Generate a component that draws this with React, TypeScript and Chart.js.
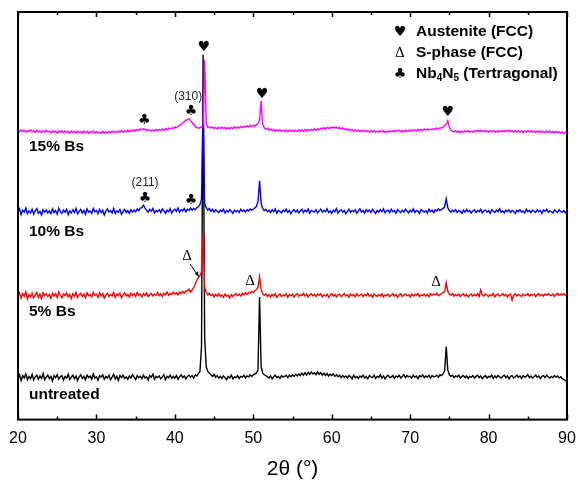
import { useEffect, useRef } from "react";
import { Chart, registerables } from "chart.js";

Chart.register(...registerables);

// 2θ scan grid: 20° to 90° in 0.2° steps (351 points)
const SCAN_START = 20;
const SCAN_STEP = 0.2;

const untreated = [
  10.1, 11.0, 9.6, 10.8, 10.2, 11.2, 9.8, 10.6, 10.0, 11.1,
  9.7, 10.5, 10.9, 9.9, 10.7, 10.1, 11.3, 9.8, 10.4, 10.9,
  10.0, 10.6, 9.5, 10.8, 10.3, 11.0, 9.9, 10.5, 10.8, 9.7,
  10.6, 10.2, 11.1, 9.8, 10.4, 10.9, 10.0, 10.7, 9.6, 10.5,
  11.0, 10.1, 10.6, 9.8, 10.9, 10.3, 10.7, 9.9, 11.2, 10.2,
  10.5, 9.7, 10.8, 10.4, 11.0, 9.9, 10.6, 10.2, 10.9, 9.8,
  10.4, 11.1, 10.0, 10.6, 9.6, 10.8, 10.3, 10.9, 10.1, 10.5,
  9.9, 10.7, 10.2, 11.0, 10.4, 9.8, 10.8, 10.3, 10.6, 10.0,
  10.9, 10.2, 10.5, 9.7, 10.8, 10.4, 11.1, 9.9, 10.6, 10.3,
  10.7, 10.0, 10.5, 11.0, 9.8, 10.6, 10.3, 10.9, 10.1, 10.6,
  10.2, 10.8, 9.9, 10.5, 11.0, 10.3, 10.7, 10.0, 10.6, 10.9,
  10.4, 10.8, 10.2, 11.0, 10.7, 11.3, 11.8, 18.0, 89.5, 20.0,
  13.0, 11.8, 11.4, 11.0, 10.6, 11.1, 10.4, 10.8, 10.2, 10.6,
  10.1, 10.7, 10.3, 9.8, 10.6, 10.2, 10.9, 10.0, 10.5, 10.3,
  10.8, 10.1, 10.6, 10.4, 10.9, 10.2, 10.7, 10.5, 11.0, 10.6,
  11.0, 11.2, 11.4, 12.2, 30.1, 13.0, 11.4, 11.0, 10.8, 10.5,
  10.2, 10.7, 10.0, 10.5, 10.9, 10.3, 10.6, 10.1, 10.8, 10.4,
  10.6, 10.9, 10.3, 10.9, 10.5, 11.0, 10.6, 11.1, 10.7, 11.2,
  10.8, 11.4, 10.9, 11.5, 10.9, 11.6, 11.1, 11.7, 11.2, 11.5,
  11.0, 11.7, 11.1, 11.5, 10.9, 11.4, 10.8, 11.3, 10.7, 11.2,
  10.8, 11.2, 10.6, 11.0, 10.5, 10.9, 10.3, 10.8, 10.4, 10.7,
  10.2, 10.8, 10.5, 10.0, 10.9, 10.3, 10.6, 10.1, 10.7, 10.4,
  10.9, 10.2, 10.6, 10.0, 10.8, 10.5, 10.3, 10.9, 10.1, 10.6,
  10.4, 11.0, 10.2, 10.7, 10.0, 10.6, 10.9, 10.3, 10.5, 10.8,
  10.1, 10.7, 10.4, 10.9, 10.2, 10.6, 11.0, 10.3, 10.8, 10.5,
  10.6, 10.2, 10.9, 10.4, 10.7, 10.0, 10.8, 10.5, 11.0, 10.3,
  10.7, 10.4, 10.9, 10.2, 10.8, 10.5, 10.6, 10.9, 10.4, 11.0,
  10.8, 11.2, 12.0, 17.9, 12.2, 11.0, 10.6, 10.9, 10.3, 10.7,
  10.5, 10.9, 10.2, 10.6, 10.8, 10.3, 10.7, 10.1, 10.6, 10.4,
  10.8, 10.2, 10.6, 10.9, 10.3, 10.7, 10.0, 10.5, 10.8, 10.2,
  10.6, 10.4, 10.9, 10.1, 10.7, 10.3, 10.8, 10.5, 10.2, 10.6,
  10.9, 10.3, 10.7, 10.0, 10.6, 10.8, 10.2, 10.5, 10.9, 10.4,
  10.7, 10.1, 10.8, 10.4, 10.6, 11.0, 10.3, 10.7, 10.2, 10.5,
  10.9, 10.4, 10.7, 10.1, 10.6, 10.8, 10.3, 10.9, 10.5, 10.2,
  10.6, 10.3, 10.8, 10.4, 10.7, 10.2, 10.5, 10.1, 9.8, 9.6,
  9.3,
];

const bs5 = [
  30.2, 31.1, 29.8, 30.9, 30.3, 31.3, 29.6, 30.7, 30.1, 31.0,
  29.9, 30.6, 31.2, 30.0, 30.8, 29.7, 31.1, 30.4, 30.9, 30.2,
  30.7, 29.8, 31.0, 30.3, 30.9, 30.0, 31.3, 30.5, 29.9, 30.8,
  30.4, 31.1, 30.1, 30.7, 29.7, 30.9, 30.3, 31.2, 30.0, 30.6,
  31.0, 30.2, 30.8, 29.9, 31.1, 30.4, 30.7, 30.1, 31.2, 30.5,
  30.8, 30.0, 31.1, 30.3, 30.9, 29.8, 30.6, 31.0, 30.2, 30.7,
  30.3, 31.2, 30.0, 30.8, 30.4, 31.0, 29.9, 30.6, 31.1, 30.3,
  30.7, 30.1, 31.0, 30.4, 30.9, 30.2, 31.2, 30.5, 30.8, 30.1,
  30.9, 30.4, 31.1, 30.2, 30.7, 31.0, 30.3, 30.8, 30.5, 31.2,
  30.4, 30.9, 30.2, 31.0, 30.6, 31.3, 30.5, 30.9, 30.7, 31.2,
  30.8, 31.1, 30.6, 31.3, 30.9, 31.4, 31.0, 31.5, 31.6, 32.0,
  31.3, 31.8, 32.4, 33.2, 34.2, 34.8, 35.3, 36.2, 45.8, 32.4,
  31.2, 30.6, 31.0, 30.4, 30.8, 30.1, 30.7, 30.3, 30.9, 30.2,
  30.6, 30.0, 30.8, 30.3, 30.5, 29.9, 30.7, 30.2, 30.6, 30.9,
  30.4, 30.8, 30.3, 31.0, 30.6, 31.1, 30.7, 31.2, 31.0, 31.4,
  31.2, 31.6, 31.9, 32.5, 35.0, 32.0, 30.9, 30.5, 30.8, 30.2,
  30.6, 30.1, 30.7, 30.3, 30.9, 30.0, 30.5, 30.8, 30.2, 30.6,
  30.3, 30.9, 30.0, 30.7, 30.4, 30.8, 30.1, 30.6, 30.9, 30.2,
  30.7, 30.4, 31.0, 30.3, 30.8, 30.1, 30.6, 30.9, 30.4, 30.7,
  30.2, 30.8, 30.5, 30.9, 30.1, 30.6, 30.3, 30.8, 30.0, 30.5,
  30.9, 30.3, 30.7, 30.1, 30.6, 30.8, 30.2, 30.5, 30.9, 30.3,
  30.6, 30.0, 30.8, 30.4, 30.7, 30.1, 30.9, 30.3, 30.5, 30.8,
  30.2, 30.7, 30.4, 31.0, 30.3, 30.6, 30.0, 30.8, 30.5, 30.2,
  30.7, 30.3, 30.9, 30.1, 30.6, 30.4, 30.8, 30.2, 30.5, 30.9,
  30.3, 30.7, 30.0, 30.6, 30.9, 30.2, 30.5, 30.8, 30.4, 30.6,
  30.1, 30.8, 30.3, 30.7, 30.5, 30.9, 30.2, 30.6, 30.4, 30.8,
  30.3, 30.7, 30.1, 30.9, 30.5, 30.8, 30.6, 31.0, 30.4, 30.7,
  30.9, 31.1, 31.4, 33.6, 31.5, 30.8, 30.5, 30.9, 30.3, 30.7,
  30.4, 30.8, 30.2, 30.6, 30.9, 30.3, 30.7, 30.1, 30.5, 30.8,
  30.3, 30.7, 30.4, 30.9, 30.2, 31.8, 30.6, 30.3, 30.8, 30.5,
  30.2, 30.7, 30.4, 30.9, 30.1, 30.6, 30.8, 30.3, 30.5, 30.9,
  30.4, 30.7, 30.1, 30.6, 30.8, 29.3, 30.5, 30.9, 30.3, 30.7,
  30.5, 30.2, 30.8, 30.4, 30.6, 30.9, 30.3, 30.7, 30.5, 30.8,
  30.2, 30.6, 30.9, 30.4, 30.7, 30.3, 30.8, 30.5, 30.9, 30.6,
  30.4, 30.8, 30.2, 30.7, 31.0, 30.5, 30.8, 30.6, 30.9, 30.4,
  30.6,
];

const bs10 = [
  50.8, 51.7, 50.3, 51.4, 50.9, 51.9, 50.5, 51.2, 50.7, 51.6,
  50.4, 51.3, 51.8, 50.6, 51.1, 50.2, 51.5, 50.9, 51.4, 50.7,
  51.2, 50.5, 51.7, 50.8, 51.3, 50.4, 51.9, 51.0, 50.6, 51.4,
  50.9, 51.6, 50.3, 51.2, 50.7, 51.5, 50.8, 51.8, 50.5, 51.1,
  51.6, 50.7, 51.3, 50.4, 51.7, 50.9, 51.2, 50.6, 51.8, 51.0,
  51.3, 50.5, 51.6, 50.8, 51.4, 50.2, 51.1, 51.7, 50.9, 51.3,
  50.7, 51.8, 50.6, 51.2, 50.9, 51.5, 50.4, 51.1, 51.6, 50.8,
  51.3, 50.6, 51.5, 50.9, 51.4, 51.0, 51.7, 51.3, 51.9, 52.0,
  52.6, 51.9, 51.4, 50.9, 51.6, 51.1, 51.8, 50.7, 51.3, 51.0,
  51.5, 50.8, 51.7, 51.2, 50.6, 51.4, 51.0, 51.8, 50.7, 51.3,
  51.6, 51.1, 51.9, 50.9, 51.5, 51.2, 51.8, 51.0, 51.6, 51.3,
  51.9, 51.4, 51.8, 51.5, 52.0, 52.2, 52.8, 54.0, 77.5, 53.0,
  52.0, 51.4, 51.8, 51.1, 51.6, 50.9, 51.5, 51.2, 50.8, 51.4,
  51.0, 51.6, 50.7, 51.3, 50.9, 51.5, 51.1, 50.6, 51.4, 51.0,
  51.3, 50.8, 51.6, 51.1, 51.4, 50.9, 51.5, 51.2, 51.7, 51.4,
  51.6, 51.9, 52.3, 53.5, 58.6, 53.0, 51.8, 51.3, 51.6, 51.0,
  51.4, 50.8, 51.5, 51.0, 51.7, 50.6, 51.3, 51.1, 50.7, 51.4,
  51.0, 51.6, 50.8, 51.3, 50.5, 51.2, 51.5, 50.9, 51.4, 50.7,
  51.2, 51.6, 50.8, 51.4, 51.0, 51.7, 50.6, 51.3, 51.1, 50.9,
  51.5, 50.7, 51.2, 51.6, 50.9, 51.3, 51.0, 51.7, 50.8, 51.2,
  50.6, 51.4, 51.0, 51.8, 50.7, 51.2, 51.5, 50.9, 51.3, 50.5,
  51.1, 51.6, 50.8, 51.3, 51.0, 51.5, 50.6, 51.2, 51.7, 50.9,
  51.3, 50.7, 51.5, 51.0, 51.4, 50.8, 51.6, 51.1, 50.6, 51.3,
  50.9, 51.5, 51.0, 51.7, 50.7, 51.2, 51.4, 50.8, 51.6, 51.0,
  51.3, 50.6, 51.5, 51.1, 50.8, 51.4, 50.9, 51.6, 51.2, 50.7,
  51.4, 51.0, 51.7, 50.8, 51.3, 51.1, 50.6, 51.5, 51.2, 50.9,
  51.3, 50.7, 51.6, 51.0, 51.4, 50.8, 51.5, 51.2, 51.7, 51.3,
  51.6, 51.8, 52.2, 54.2, 52.0, 51.3, 50.9, 51.4, 51.0, 51.5,
  50.8, 51.3, 51.1, 50.6, 51.4, 50.9, 51.6, 51.0, 51.3, 50.7,
  51.2, 51.5, 50.8, 51.3, 51.0, 51.6, 50.7, 51.2, 51.4, 50.9,
  51.3, 50.6, 51.5, 51.1, 50.8, 51.4, 51.0, 51.7, 50.9, 51.2,
  50.7, 51.4, 51.0, 51.5, 50.8, 51.3, 51.1, 50.6, 51.4, 51.0,
  51.5, 50.9, 51.2, 50.7, 51.6, 51.0, 51.3, 50.8, 51.4, 51.1,
  50.8, 51.5, 51.0, 51.3, 50.6, 51.4, 51.1, 51.6, 50.9, 51.2,
  51.0, 50.7, 51.4, 51.1, 50.8, 51.5, 51.0, 50.9, 51.3, 50.7,
  51.1,
];

const bs15 = [
  71.0, 70.6, 71.1, 70.7, 71.0, 70.5, 70.9, 70.6, 71.1, 70.7,
  70.9, 70.5, 71.0, 70.6, 70.8, 70.4, 70.9, 70.5, 71.0, 70.6,
  70.8, 70.4, 70.9, 70.5, 70.8, 70.3, 70.8, 70.5, 70.9, 70.4,
  70.8, 70.4, 70.7, 70.3, 70.8, 70.4, 70.7, 70.3, 70.8, 70.4,
  70.7, 70.3, 70.8, 70.4, 70.7, 70.2, 70.7, 70.4, 70.8, 70.3,
  70.7, 70.3, 70.6, 70.2, 70.7, 70.3, 70.6, 70.3, 70.7, 70.4,
  70.8, 70.4, 70.7, 70.4, 70.8, 70.5, 70.9, 70.5, 70.9, 70.6,
  71.0, 70.6, 71.0, 70.7, 71.1, 70.8, 71.2, 70.9, 71.3, 71.1,
  71.4, 71.1, 71.2, 70.9, 71.1, 70.8, 71.1, 70.8, 71.2, 70.9,
  71.2, 70.9, 71.3, 71.0, 71.4, 71.1, 71.5, 71.2, 71.6, 71.4,
  71.8, 71.6, 72.0, 72.1, 72.5, 72.7, 73.1, 73.4, 73.6, 73.8,
  73.4, 72.9, 72.4, 71.9, 71.7, 71.5, 71.6, 71.8, 72.2, 88.2,
  72.6, 71.7, 71.9, 71.5, 71.8, 71.4, 71.7, 71.3, 71.7, 71.4,
  71.8, 71.4, 71.7, 71.3, 71.6, 71.3, 71.7, 71.4, 71.8, 71.5,
  71.8, 71.5, 71.9, 71.6, 72.0, 71.7, 72.1, 71.8, 72.2, 71.9,
  72.2, 72.0, 72.3, 72.6, 73.5, 78.2, 72.4, 71.6, 71.2, 71.5,
  71.0, 71.3, 70.9, 71.2, 70.8, 71.1, 70.8, 71.1, 70.7, 71.0,
  70.7, 71.0, 70.6, 71.0, 70.7, 71.0, 70.6, 71.0, 70.7, 71.1,
  70.8, 71.1, 70.7, 71.1, 70.8, 71.2, 70.9, 71.2, 70.9, 71.3,
  71.0, 71.4, 71.1, 71.5, 71.2, 71.6, 71.3, 71.7, 71.4, 71.7,
  71.5, 71.8, 71.5, 71.8, 71.4, 71.7, 71.3, 71.6, 71.2, 71.4,
  71.0, 71.3, 70.9, 71.2, 70.8, 71.1, 70.7, 71.0, 70.6, 71.0,
  70.7, 71.0, 70.6, 70.9, 70.5, 70.9, 70.6, 70.9, 70.5, 70.8,
  70.5, 70.9, 70.6, 70.9, 70.5, 70.8, 70.5, 70.9, 70.6, 70.9,
  70.6, 71.0, 70.7, 71.0, 70.6, 70.9, 70.6, 71.0, 70.7, 71.0,
  70.7, 71.1, 70.8, 71.1, 70.8, 71.2, 70.9, 71.2, 70.9, 71.3,
  71.0, 71.3, 71.0, 71.3, 71.1, 71.4, 71.2, 71.5, 71.3, 71.6,
  71.5, 71.8, 72.1, 72.4, 73.3, 71.8, 71.0, 70.7, 70.6, 70.9,
  70.5, 70.8, 70.4, 70.8, 70.5, 70.9, 70.6, 70.9, 70.5, 70.8,
  70.5, 70.9, 70.6, 71.0, 70.7, 71.0, 70.6, 70.9, 70.6, 70.9,
  70.5, 70.9, 70.6, 70.9, 70.5, 70.8, 70.5, 70.9, 70.6, 70.9,
  70.6, 71.0, 70.7, 71.0, 70.6, 70.9, 70.5, 70.9, 70.6, 70.9,
  70.5, 70.8, 70.4, 70.8, 70.5, 70.9, 70.6, 70.9, 70.5, 70.8,
  70.4, 70.8, 70.5, 70.8, 70.4, 70.7, 70.4, 70.8, 70.5, 70.8,
  70.4, 70.7, 70.3, 70.7, 70.4, 70.6, 70.3, 70.6, 70.2, 70.5,
  70.2,
];

const seriesNames = ["15% Bs", "10% Bs", "5% Bs", "untreated"];
const seriesColors = ["#ff00ff", "#0000ff", "#ff0000", "#000000"];
const seriesValues = [bs15, bs10, bs5, untreated];
// label anchor (2θ, intensity) for each trace's name
const seriesLabelPos = [
  { x: 21.4, y: 66.9 },
  { x: 21.4, y: 46.1 },
  { x: 21.4, y: 26.4 },
  { x: 21.4, y: 6.1 },
];

const xTicks = [20, 30, 40, 50, 60, 70, 80, 90];

// phase markers above the peaks (2θ, intensity)
const symbolMarks = [
  { t: "♥", x: 43.7, y: 91.4 },
  { t: "♥", x: 51.1, y: 79.7 },
  { t: "♥", x: 74.8, y: 75.5 },
  { t: "♣", x: 36.1, y: 73.3 },
  { t: "♣", x: 42.06, y: 75.7 },
  { t: "♣", x: 36.2, y: 54.4 },
  { t: "♣", x: 42.06, y: 53.7 },
];
const deltaMarks = [
  { x: 41.55, y: 40.0 },
  { x: 49.6, y: 34.1 },
  { x: 73.3, y: 33.8 },
];
const deltaArrow = { x1: 41.93, y1: 38.2, x2: 43.05, y2: 35.1 };
const millerLabels = [
  { t: "(310)", x: 41.7, y: 79.2 },
  { t: "(211)", x: 36.2, y: 58.1 },
];
const legendAnchor = { symX: 68.7, textX: 70.75, ys: [95.1, 90.0, 84.8] };

const BOLD = "bold 15.5px 'Liberation Sans', Arial, sans-serif";
const SYM = "14px 'DejaVu Sans', sans-serif";
const SERIF = "15px 'Liberation Serif', 'DejaVu Serif', serif";

const annotationPlugin = {
  id: "xrdAnnotations",
  afterDatasetsDraw(chart: any) {
    const { ctx, chartArea } = chart;
    const xs = chart.scales.x;
    const ys = chart.scales.y;
    const px = (v: number) => xs.getPixelForValue(v);
    const py = (v: number) => ys.getPixelForValue(v);
    ctx.save();

    // frame
    ctx.strokeStyle = "#000";
    ctx.lineWidth = 2;
    ctx.strokeRect(
      chartArea.left,
      chartArea.top,
      chartArea.right - chartArea.left,
      chartArea.bottom - chartArea.top
    );
    // inward ticks (major every 10, minor every 5)
    ctx.lineWidth = 1.5;
    for (let v = 20; v <= 90; v += 5) {
      const major = v % 10 === 0;
      const len = major ? 5 : 3;
      const x = Math.round(px(v)) + 0.5;
      ctx.beginPath();
      ctx.moveTo(x, chartArea.bottom);
      ctx.lineTo(x, chartArea.bottom - len);
      ctx.moveTo(x, chartArea.top);
      ctx.lineTo(x, chartArea.top + len);
      ctx.stroke();
    }

    ctx.fillStyle = "#000";
    ctx.textBaseline = "middle";

    // trace names
    ctx.font = BOLD;
    ctx.textAlign = "left";
    seriesNames.forEach((n, i) => {
      ctx.fillText(n, px(seriesLabelPos[i].x), py(seriesLabelPos[i].y));
    });

    // symbols
    ctx.textAlign = "center";
    ctx.font = SYM;
    symbolMarks.forEach((m) => ctx.fillText(m.t, px(m.x), py(m.y)));
    ctx.font = SERIF;
    deltaMarks.forEach((m) => ctx.fillText("Δ", px(m.x), py(m.y)));

    // arrow
    const ax1 = px(deltaArrow.x1), ay1 = py(deltaArrow.y1);
    const ax2 = px(deltaArrow.x2), ay2 = py(deltaArrow.y2);
    ctx.lineWidth = 1;
    ctx.beginPath();
    ctx.moveTo(ax1, ay1);
    ctx.lineTo(ax2, ay2);
    ctx.stroke();
    const ang = Math.atan2(ay2 - ay1, ax2 - ax1);
    ctx.beginPath();
    ctx.moveTo(ax2, ay2);
    ctx.lineTo(ax2 - 5 * Math.cos(ang - 0.45), ay2 - 5 * Math.sin(ang - 0.45));
    ctx.lineTo(ax2 - 5 * Math.cos(ang + 0.45), ay2 - 5 * Math.sin(ang + 0.45));
    ctx.closePath();
    ctx.fill();

    // Miller indices
    ctx.font = "12px 'Liberation Sans', Arial, sans-serif";
    ctx.fillStyle = "#222";
    millerLabels.forEach((m) => ctx.fillText(m.t, px(m.x), py(m.y)));
    ctx.fillStyle = "#000";

    // legend
    const lx = px(legendAnchor.symX);
    const tx = px(legendAnchor.textX);
    const [l1, l2, l3] = legendAnchor.ys.map(py);
    ctx.textAlign = "center";
    ctx.font = SYM;
    ctx.fillText("♥", lx, l1);
    ctx.font = SERIF;
    ctx.fillText("Δ", lx, l2);
    ctx.font = SYM;
    ctx.fillText("♣", lx, l3);
    ctx.textAlign = "left";
    ctx.font = BOLD;
    ctx.fillText("Austenite (FCC)", tx, l1);
    ctx.fillText("S-phase (FCC)", tx, l2);
    let cx = tx;
    const parts: [string, boolean][] = [
      ["Nb", false],
      ["4", true],
      ["N", false],
      ["5", true],
      [" (Tertragonal)", false],
    ];
    parts.forEach(([s, sub]) => {
      ctx.font = sub ? "bold 10px 'Liberation Sans', Arial, sans-serif" : BOLD;
      ctx.fillText(s, cx, sub ? l3 + 4 : l3);
      cx += ctx.measureText(s).width;
    });

    ctx.restore();
  },
};

export default function App() {
  const ref = useRef<HTMLCanvasElement>(null);
  useEffect(() => {
    if (!ref.current) return;
    const datasets = seriesValues.map((vals, i) => ({
      label: seriesNames[i],
      data: vals.map((v, k) => ({ x: SCAN_START + k * SCAN_STEP, y: v })),
      borderColor: seriesColors[i],
      backgroundColor: seriesColors[i],
      borderWidth: 1.4,
      pointRadius: 0,
      tension: 0,
      fill: false,
    }));
    const chart = new Chart(ref.current, {
      type: "line",
      data: { datasets },
      options: {
        animation: false,
        responsive: true,
        maintainAspectRatio: false,
        layout: { padding: { left: 18, right: 11, top: 12, bottom: 0 } },
        plugins: { legend: { display: false }, tooltip: { enabled: false } },
        scales: {
          x: {
            type: "linear",
            min: 20,
            max: 90,
            afterBuildTicks: (s: any) => {
              s.ticks = xTicks.map((v) => ({ value: v }));
            },
            afterFit: (s: any) => {
              s.paddingLeft = 0;
              s.paddingRight = 0;
            },
            grid: { display: false, drawTicks: false },
            border: { display: false },
            ticks: {
              padding: 9,
              color: "#000",
              font: { family: "'Liberation Sans', Arial, sans-serif", size: 16 },
            },
            title: {
              display: true,
              text: "2θ (°)",
              color: "#000",
              font: { family: "'Liberation Sans', Arial, sans-serif", size: 21 },
              padding: { top: 0, bottom: 2 },
            },
          },
          y: { display: false, min: 0, max: 100 },
        },
      },
      plugins: [annotationPlugin],
    });
    return () => chart.destroy();
  }, []);
  return (
    <div style={{ position: "absolute", left: 0, top: 0, width: 578, height: 484, background: "#fff" }}>
      <canvas ref={ref} />
    </div>
  );
}
